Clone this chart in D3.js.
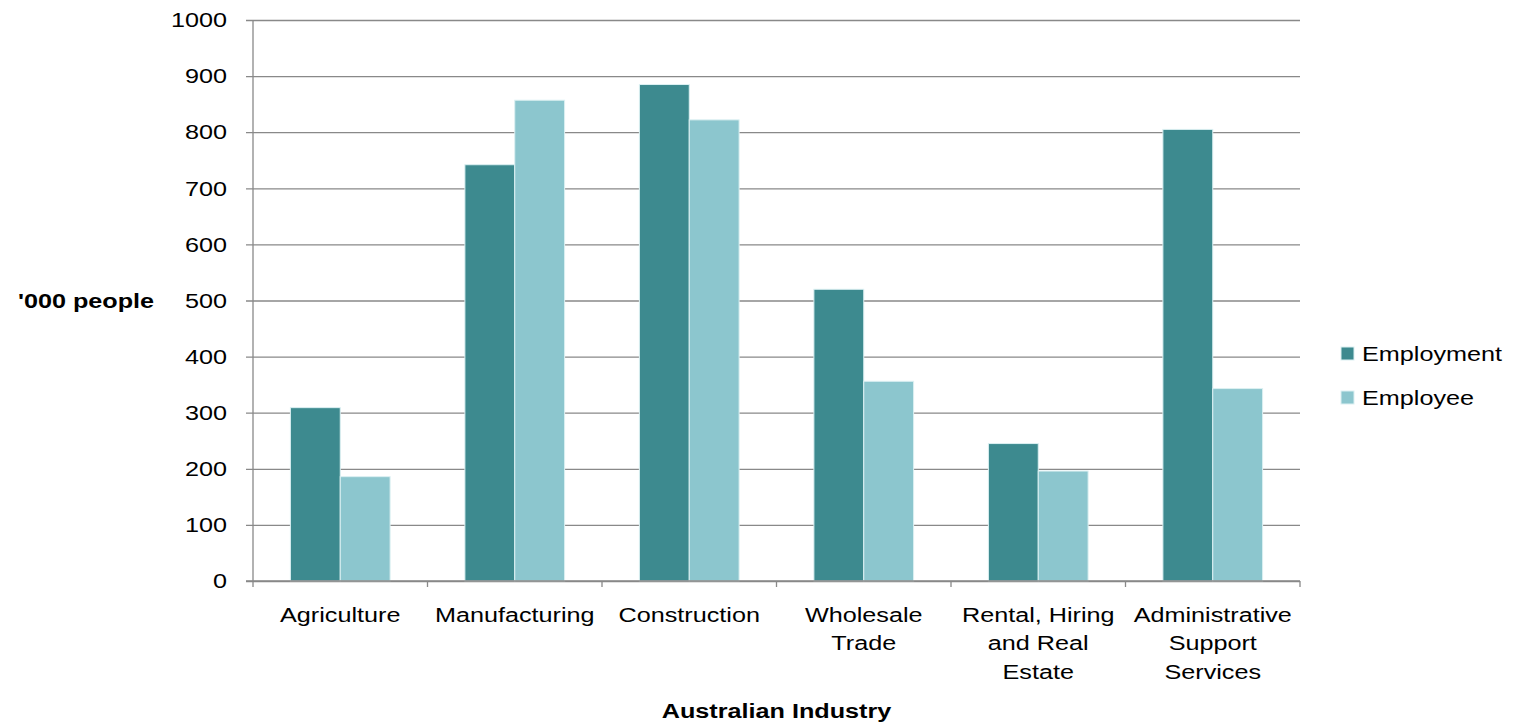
<!DOCTYPE html>
<html>
<head>
<meta charset="utf-8">
<script src="https://cdn.jsdelivr.net/npm/d3@7"></script>
<style>
  body { margin: 0; background: #fff; }
  text { font-family: "Liberation Sans", Arial, sans-serif; fill: #000; }
</style>
</head>
<body>
<svg id="chart"></svg>
<script>
// categories and series
const industries = [
    ["Agriculture"],
    ["Manufacturing"],
    ["Construction"],
    ["Wholesale", "Trade"],
    ["Rental, Hiring", "and Real", "Estate"],
    ["Administrative", "Support", "Services"]
];
const seriesNames = ["Employment", "Employee"];
const employment = [309, 742, 885, 520, 245, 805];
const employee = [186, 857, 822, 356, 196, 343];
const yTicks = [0, 100, 200, 300, 400, 500, 600, 700, 800, 900, 1000];
const colors = ["#3d8a8f", "#8cc6ce"];

const W = 1521, H = 728;
const margin = { top: 20, right: 221, bottom: 147, left: 253 };
const width = W - margin.left - margin.right;
const height = H - margin.top - margin.bottom;
// the source text is a little wider than it is tall
const fontSize = '21px';
const SX = 1.2;

const svg = d3.select('#chart')
    .attr('width', W)
    .attr('height', H);

const g = svg.append('g')
    .attr('transform', `translate(${margin.left},${margin.top})`);

const x = d3.scaleBand()
    .domain(d3.range(industries.length))
    .range([0, width])
    .padding(0);

const xInner = d3.scaleBand()
    .domain(seriesNames)
    .range([0, x.bandwidth()])
    .paddingOuter(0.75)
    .paddingInner(0);

const y = d3.scaleLinear()
    .domain([0, 1000])
    .range([height, 0]);

// gridlines + left ticks
g.append('g')
    .attr('class', 'y-axis')
    .call(d3.axisLeft(y).tickValues(yTicks).tickSize(-width - 7).tickFormat(d3.format('d')))
    .call(a => a.select('.domain').remove())
    .call(a => a.selectAll('.tick line')
        .attr('x1', -7)
        .attr('x2', width)
        .attr('stroke', '#898989')
        .attr('stroke-width', 1.3))
    .call(a => a.selectAll('.tick text')
        .attr('x', -26 / SX)
        .attr('dy', '0.32em')
        .attr('transform', `scale(${SX},1)`)
        .style('font-size', fontSize)
        .style('font-family', '"Liberation Sans", Arial, sans-serif'));

// y axis line
g.append('line')
    .attr('x1', 0).attr('x2', 0)
    .attr('y1', 0).attr('y2', height)
    .attr('stroke', '#898989')
    .attr('stroke-width', 1.3);

const rows = industries.map((name, i) => ({ i, values: [employment[i], employee[i]] }));

const groups = g.selectAll('.group')
    .data(rows)
    .enter()
    .append('g')
    .attr('class', 'group')
    .attr('transform', d => `translate(${x(d.i)},0)`);

groups.selectAll('rect')
    .data(d => d.values.map((v, k) => ({ key: seriesNames[k], value: v, k })))
    .enter()
    .append('rect')
    .attr('x', d => xInner(d.key))
    .attr('y', d => y(d.value))
    .attr('width', xInner.bandwidth())
    .attr('height', d => height - y(d.value))
    .attr('fill', d => colors[d.k])
    .attr('stroke', '#dcf0f2')
    .attr('stroke-width', 1);

// x axis line and ticks at category boundaries
g.append('line')
    .attr('x1', -7).attr('x2', width)
    .attr('y1', height).attr('y2', height)
    .attr('stroke', '#898989')
    .attr('stroke-width', 1.3);

g.selectAll('.xtick')
    .data(d3.range(industries.length + 1))
    .enter()
    .append('line')
    .attr('class', 'xtick')
    .attr('x1', d => d * x.step())
    .attr('x2', d => d * x.step())
    .attr('y1', height)
    .attr('y2', height + 6)
    .attr('stroke', '#898989')
    .attr('stroke-width', 1.3);

// category labels
const labels = g.selectAll('.cat-label')
    .data(industries)
    .enter()
    .append('text')
    .attr('class', 'cat-label')
    .attr('text-anchor', 'middle')
    .attr('transform', (d, i) => `translate(${x(i) + x.bandwidth() / 2},${height + 41}) scale(${SX},1)`)
    .style('font-size', fontSize);

labels.selectAll('tspan')
    .data(d => d)
    .enter()
    .append('tspan')
    .attr('x', 0)
    .attr('dy', (d, i) => i === 0 ? 0 : 28.5)
    .text(d => d);

// axis titles
svg.append('text')
    .attr('transform', `translate(86,308) scale(${SX},1)`)
    .attr('text-anchor', 'middle')
    .style('font-size', fontSize)
    .style('font-weight', 'bold')
    .text("'000 people");

svg.append('text')
    .attr('transform', `translate(${margin.left + width / 2},718) scale(${SX},1)`)
    .attr('text-anchor', 'middle')
    .style('font-size', fontSize)
    .style('font-weight', 'bold')
    .text('Australian Industry');

// legend
const legend = svg.selectAll('.legend')
    .data(seriesNames)
    .enter()
    .append('g')
    .attr('class', 'legend')
    .attr('transform', (d, i) => `translate(1341,${347 + i * 44})`);

legend.append('rect')
    .attr('width', 13)
    .attr('height', 13)
    .attr('fill', (d, i) => colors[i])
    .attr('stroke', '#dcf0f2')
    .attr('stroke-width', 1);

legend.append('text')
    .attr('transform', `translate(21,14) scale(${SX},1)`)
    .style('font-size', fontSize)
    .text(d => d);
</script>
</body>
</html>
